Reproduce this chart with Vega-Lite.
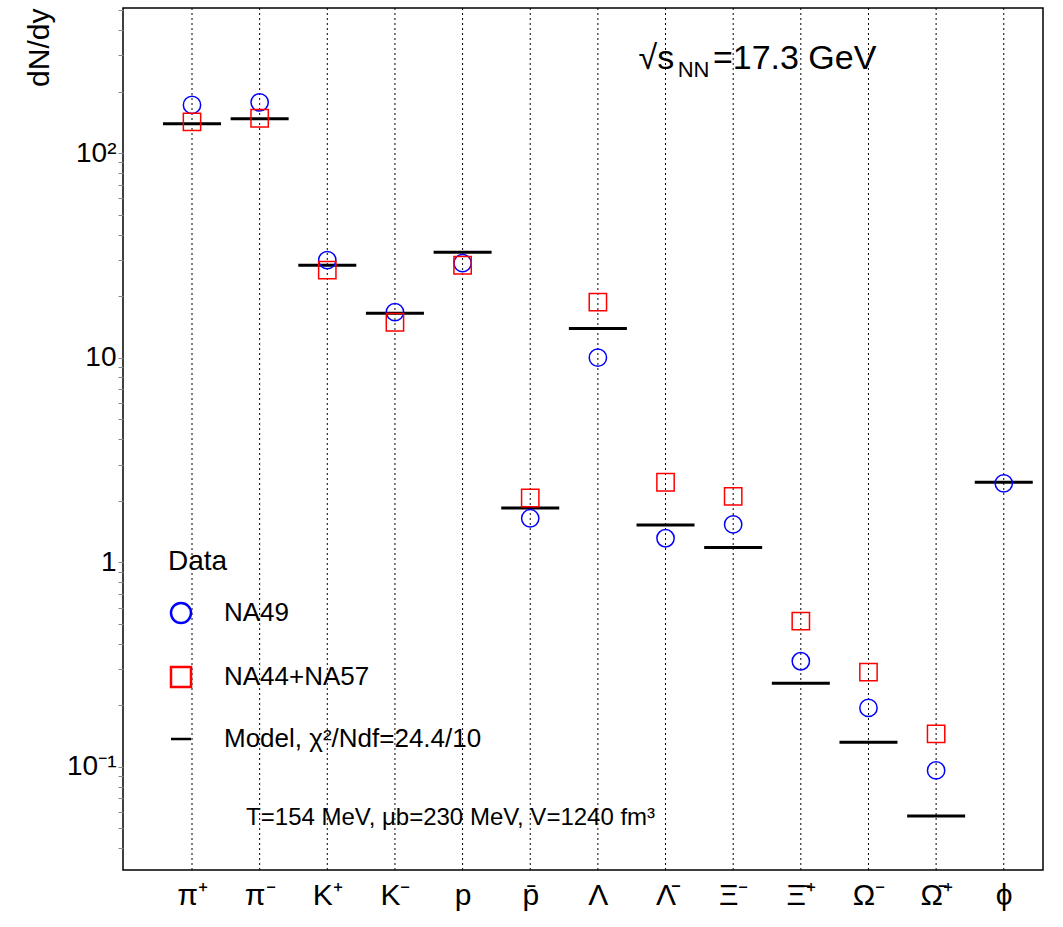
{
"$schema":"https://vega.github.io/schema/vega-lite/v6.json",
"width":920,"height":862,"autosize":"none",
"padding":{"left":123,"top":8,"right":20,"bottom":57},
"background":"white",
"config":{"view":{"stroke":"black","strokeWidth":1.5},"font":"Liberation Sans"},
"datasets":{
"pts":[
{"i":1,"series":"NA49","v":172},{"i":2,"series":"NA49","v":177},{"i":3,"series":"NA49","v":30},{"i":4,"series":"NA49","v":16.7},{"i":5,"series":"NA49","v":29},{"i":6,"series":"NA49","v":1.64},{"i":7,"series":"NA49","v":10},{"i":8,"series":"NA49","v":1.31},{"i":9,"series":"NA49","v":1.53},{"i":10,"series":"NA49","v":0.328},{"i":11,"series":"NA49","v":0.194},{"i":12,"series":"NA49","v":0.096},{"i":13,"series":"NA49","v":2.43},
{"i":1,"series":"NA44+NA57","v":142},{"i":2,"series":"NA44+NA57","v":148},{"i":3,"series":"NA44+NA57","v":26.8},{"i":4,"series":"NA44+NA57","v":14.9},{"i":5,"series":"NA44+NA57","v":28.3},{"i":6,"series":"NA44+NA57","v":2.06},{"i":7,"series":"NA44+NA57","v":18.7},{"i":8,"series":"NA44+NA57","v":2.46},{"i":9,"series":"NA44+NA57","v":2.1},{"i":10,"series":"NA44+NA57","v":0.515},{"i":11,"series":"NA44+NA57","v":0.29},{"i":12,"series":"NA44+NA57","v":0.145}
],
"model":[
{"i":1,"v":139},{"i":2,"v":147},{"i":3,"v":28.3},{"i":4,"v":16.5},{"i":5,"v":32.8},{"i":6,"v":1.84},{"i":7,"v":13.9},{"i":8,"v":1.52},{"i":9,"v":1.18},{"i":10,"v":0.256},{"i":11,"v":0.132},{"i":12,"v":0.0575},{"i":13,"v":2.46}
],
"cols":[{"i":1},{"i":2},{"i":3},{"i":4},{"i":5},{"i":6},{"i":7},{"i":8},{"i":9},{"i":10},{"i":11},{"i":12},{"i":13}],
"notes":[{"i":7.6,"v":290,"t":"√s","s":34},{"i":8.18,"v":255,"t":"NN","s":22},{"i":8.7,"v":290,"t":"=17.3 GeV","s":34},{"i":1.8,"v":0.056,"t":"T=154 MeV, μb=230 MeV, V=1240 fm³","s":24}]
},
"layer":[
{"data":{"name":"cols"},"mark":{"type":"rule","color":"black","strokeDash":[2,3],"strokeWidth":1},
 "encoding":{"x":{"field":"i","type":"quantitative","scale":{"domain":[-0.02,13.58],"nice":false,"zero":false},
   "axis":{"values":[1,2,3,4,5,6,7,8,9,10,11,12,13],"title":null,"grid":false,"tickSize":0,"labelFontSize":30,"labelPadding":10,"domain":false,
   "labelExpr":"['','π⁺','π⁻','K⁺','K⁻','p','p̄','Λ','Λ̄','Ξ⁻','Ξ̄⁺','Ω⁻','Ω̄⁺','ϕ'][datum.value]"}}}},
{"data":{"name":"model"},"mark":{"type":"tick","orient":"horizontal","size":58,"thickness":3,"opacity":1,"color":"black"},
 "encoding":{"x":{"field":"i","type":"quantitative"},"y":{"field":"v","type":"quantitative"}}},
{"data":{"name":"pts"},"mark":{"type":"point","size":300,"strokeWidth":1.5,"filled":false,"opacity":1},
 "encoding":{"x":{"field":"i","type":"quantitative"},
  "y":{"field":"v","type":"quantitative","scale":{"type":"log","domain":[0.0313,512],"nice":false},
   "axis":{"title":"dN/dy","titleFontSize":30,"titleFontWeight":"normal","titleAnchor":"end","titlePadding":12,"grid":false,"labelFontSize":28,"domain":false,
    "values":[0.04,0.05,0.06,0.07,0.08,0.09,0.1,0.2,0.3,0.4,0.5,0.6,0.7,0.8,0.9,1,2,3,4,5,6,7,8,9,10,20,30,40,50,60,70,80,90,100,200,300,400,500],
    "labelExpr":"datum.value==100?'10²':datum.value==10?'10':datum.value==1?'1':datum.value==0.1?'10⁻¹':''"}},
  "color":{"field":"series","type":"nominal","scale":{"domain":["NA49","NA44+NA57","Model, χ²/Ndf=24.4/10"],"range":["#0000ff","#ff0000","#000000"]},
   "legend":{"orient":"none","legendX":45,"legendY":540,"title":"Data","titleFontSize":28,"titleFontWeight":"normal","labelFontSize":26,"labelLimit":500,"labelOffset":30,"symbolSize":400,"rowPadding":34,"symbolStrokeWidth":2.5,"symbolOpacity":1,"titlePadding":24,"labelColor":"black"}},
  "shape":{"field":"series","type":"nominal","scale":{"domain":["NA49","NA44+NA57","Model, χ²/Ndf=24.4/10"],"range":["circle","square","stroke"]}}}},
{"data":{"name":"notes"},"mark":{"type":"text","align":"left","baseline":"middle","color":"black"},
 "encoding":{"x":{"field":"i","type":"quantitative"},"y":{"field":"v","type":"quantitative"},"text":{"field":"t"},"size":{"field":"s","type":"quantitative","scale":null}}}
]
}
